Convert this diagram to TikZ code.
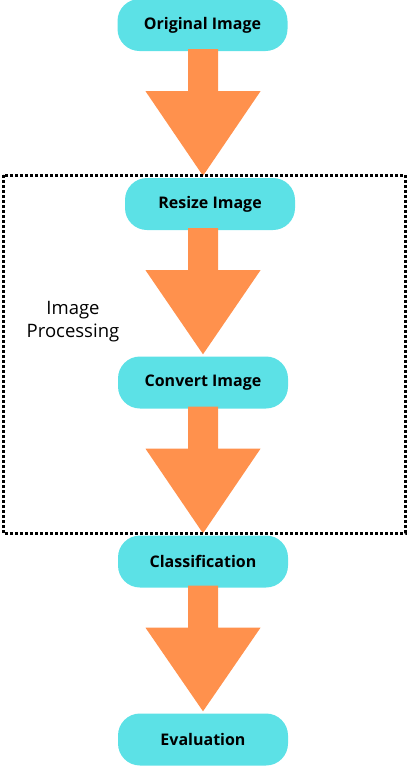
\documentclass[tikz,border=0pt]{standalone}
\usepackage{fontspec}
\setmainfont{Open Sans}
\usetikzlibrary{calc}
\definecolor{boxcyan}{HTML}{5CE1E6}
\definecolor{arroworange}{HTML}{FF914D}
\tikzset{
  stepbox/.style={fill=boxcyan, rounded corners=22pt, minimum width=170pt, minimum height=52pt,
    inner sep=0pt, font=\fontsize{16pt}{19pt}\selectfont\bfseries, text=black},
  flowarrow/.style={fill=arroworange},
  groupbox/.style={draw=black, line width=3pt, dash pattern=on 3pt off 2pt},
  grouplabel/.style={align=center, font=\fontsize{18.5pt}{23pt}\selectfont, text=black}
}
\newcommand\bigflow[2]{%
  \fill[flowarrow] ($(#1.south -| ax)+(-15,-2)$) -- ($(#1.south -| ax)+(15,-2)$) -- ($(#1.south -| ax)+(15,40)$)
   -- ($(#1.south -| ax)+(57.5,40)$) -- ($(#2.north -| ax)+(0,-2)$) -- ($(#1.south -| ax)+(-57.5,40)$)
   -- ($(#1.south -| ax)+(-15,40)$) -- cycle;}
\begin{document}
\begin{tikzpicture}[x=1pt,y=-1pt]
\useasboundingbox (0,0) rectangle (408,766);
\coordinate (ax) at (203,0);
\node[stepbox] (orig) at (202.5,25) {Original Image};
\node[stepbox] (resize) at (210,204) {Resize Image};
\node[stepbox] (convert) at (203,382.5) {Convert Image};
\node[stepbox] (class) at (203,561.5) {Classification};
\node[stepbox] (eval) at (203,739.5) {Evaluation};
\bigflow{orig}{resize}
\bigflow{resize}{convert}
\bigflow{convert}{class}
\bigflow{class}{eval}
\node[grouplabel] (lbl) at (73,322) {Image\\Processing};
\draw[groupbox] (3,175) rectangle (405,533);
\end{tikzpicture}
\end{document}
